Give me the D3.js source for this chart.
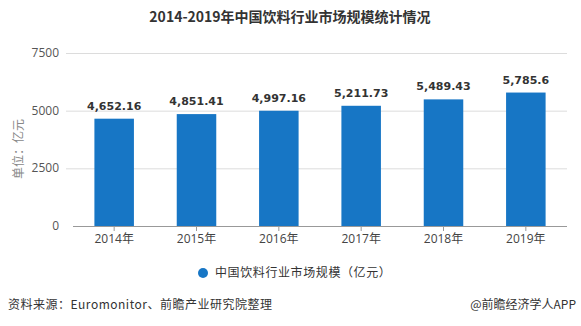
<!DOCTYPE html>
<html>
<head>
<meta charset="utf-8">
<script src="https://cdn.jsdelivr.net/npm/d3@7"></script>
<style>
  body { margin: 0; background: #fff; }
  #viz { width: 581px; height: 326px; }
  text { font-family: "Open Sans", "Noto Sans CJK SC", sans-serif; }
</style>
</head>
<body>
<div id="viz"></div>
<script>
// market size of China's beverage industry, 100 million yuan
var years = ["2014年", "2015年", "2016年", "2017年", "2018年", "2019年"];
var values = [4652.16, 4851.41, 4997.16, 5211.73, 5489.43, 5785.6];
var valueLabels = ["4,652.16", "4,851.41", "4,997.16", "5,211.73", "5,489.43", "5,785.6"];
var yTicks = [0, 2500, 5000, 7500];

var width = 581, height = 326;
var barColor = "#1776c5";

var svg = d3.select("#viz").append("svg")
  .attr("width", width)
  .attr("height", height);

// title
svg.append("text")
  .attr("x", 290)
  .attr("y", 22)
  .attr("text-anchor", "middle")
  .style("font-family", "'Noto Sans CJK SC', sans-serif")
  .style("font-size", "14px")
  .style("font-weight", "bold")
  .style("fill", "#333")
  .text("2014-2019年中国饮料行业市场规模统计情况");

var x = d3.scaleBand()
  .domain(years)
  .range([73, 567])
  .paddingInner(0.52)
  .paddingOuter(0.26);

var y = d3.scaleLinear()
  .domain([0, 7500])
  .range([226, 53]);

// grid lines
svg.append("g")
  .selectAll("line")
  .data(yTicks.slice(1))
  .enter().append("line")
  .attr("x1", 66)
  .attr("x2", 567)
  .attr("y1", function(d) { return y(d) + 0.5; })
  .attr("y2", function(d) { return y(d) + 0.5; })
  .attr("stroke", "#dcdcdc");

// y labels
svg.append("g")
  .selectAll("text")
  .data(yTicks)
  .enter().append("text")
  .attr("x", 59)
  .attr("y", function(d) { return y(d) + 4; })
  .attr("text-anchor", "end")
  .style("font-size", "12px")
  .style("fill", "#555")
  .text(function(d) { return d; });

// y title
svg.append("text")
  .attr("transform", "translate(23,149) rotate(-90)")
  .attr("text-anchor", "middle")
  .style("font-family", "'Noto Sans CJK SC', sans-serif")
  .style("font-size", "12px")
  .style("fill", "#888")
  .text("单位：亿元");

// bars
svg.append("g")
  .selectAll("rect")
  .data(values)
  .enter().append("rect")
  .attr("x", function(d, i) { return x(years[i]); })
  .attr("y", function(d) { return y(d); })
  .attr("width", x.bandwidth())
  .attr("height", function(d) { return y(0) - y(d); })
  .attr("fill", barColor);

// value labels
svg.append("g")
  .selectAll("text")
  .data(values)
  .enter().append("text")
  .attr("x", function(d, i) { return x(years[i]) + x.bandwidth() / 2; })
  .attr("y", function(d) { return y(d) - 9; })
  .attr("text-anchor", "middle")
  .style("font-family", "'DejaVu Sans', sans-serif")
  .style("font-size", "11px")
  .style("font-weight", "bold")
  .style("fill", "#333")
  .text(function(d, i) { return valueLabels[i]; });

// x axis
var xAxis = svg.append("g")
  .attr("transform", "translate(0," + y(0) + ")")
  .call(d3.axisBottom(x).tickSize(5).tickPadding(3));
xAxis.select(".domain").attr("stroke", "#999").attr("d", "M73,0.5H567");
xAxis.selectAll(".tick line").attr("stroke", "#999");
xAxis.selectAll(".tick text")
  .style("font-family", "'Open Sans', 'Noto Sans CJK SC', sans-serif")
  .style("font-size", "12px")
  .style("fill", "#444");

// legend
svg.append("circle")
  .attr("cx", 203)
  .attr("cy", 273)
  .attr("r", 5)
  .attr("fill", barColor);
svg.append("text")
  .attr("x", 215)
  .attr("y", 277)
  .style("font-family", "'Noto Sans CJK SC', sans-serif")
  .style("font-size", "12px")
  .style("letter-spacing", "0.6px")
  .style("fill", "#333")
  .text("中国饮料行业市场规模（亿元）");

// footer
svg.append("text")
  .attr("x", 8)
  .attr("y", 309)
  .style("font-family", "'Noto Sans CJK SC', sans-serif")
  .style("font-size", "12px")
  .style("letter-spacing", "0.5px")
  .style("fill", "#333")
  .text("资料来源：Euromonitor、前瞻产业研究院整理");
svg.append("text")
  .attr("x", 576)
  .attr("y", 309)
  .attr("text-anchor", "end")
  .style("font-family", "'Noto Sans CJK SC', sans-serif")
  .style("font-size", "12px")
  .style("fill", "#333")
  .text("@前瞻经济学人APP");
</script>
</body>
</html>
